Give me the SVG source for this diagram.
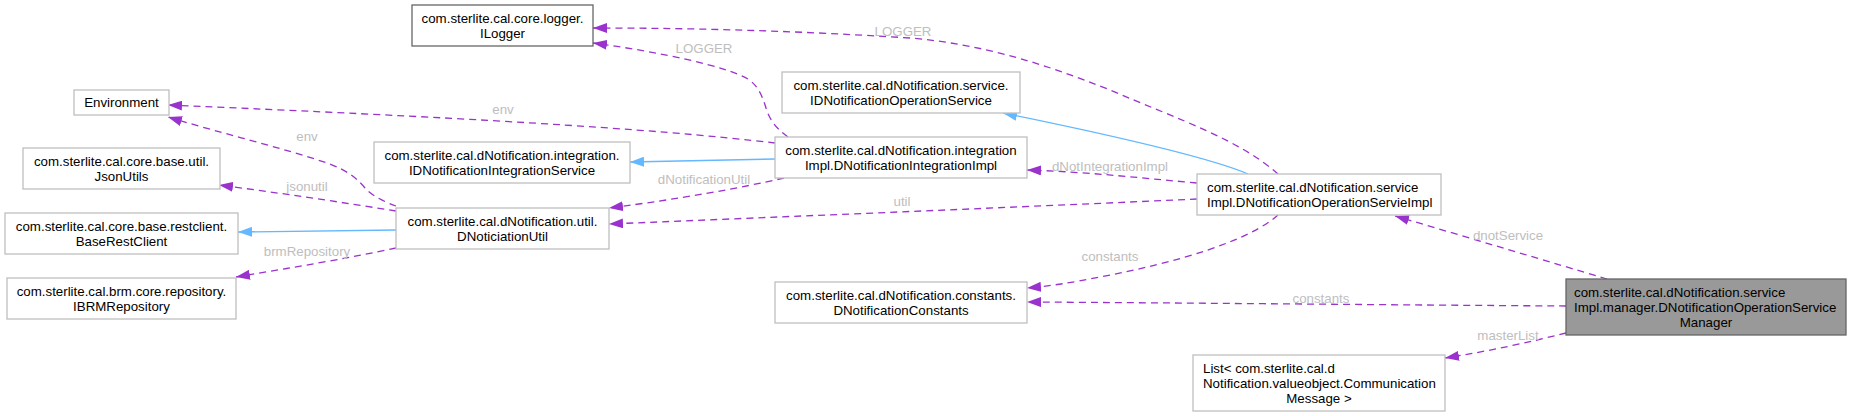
<svg xmlns="http://www.w3.org/2000/svg" width="1851" height="416" viewBox="0 0 1851 416">
<style>
  .box { fill: #ffffff; stroke: #bfbfbf; stroke-width: 1.3; }
  .dark { stroke: #666666; }
  .main { fill: #999999; stroke: #666666; stroke-width: 1.3; }
  text { font-family: "Liberation Sans", Arial, Helvetica, sans-serif; font-size: 13.3px; fill: #000000; }
  .c { text-anchor: middle; }
  .lbl { fill: #bebebe; text-anchor: middle; }
  .use { fill: none; stroke: #9a32cd; stroke-width: 1.3; stroke-dasharray: 7,5; marker-end: url(#ap); }
  .inh { fill: none; stroke: #63b8ff; stroke-width: 1.3; marker-end: url(#ab); }
</style>
<defs>
  <marker id="ap" markerUnits="userSpaceOnUse" markerWidth="14" markerHeight="10" viewBox="0 0 14 10" refX="14" refY="5" orient="auto">
    <path d="M0,0 L14,5 L0,10 z" fill="#9a32cd"/>
  </marker>
  <marker id="ab" markerUnits="userSpaceOnUse" markerWidth="14" markerHeight="10" viewBox="0 0 14 10" refX="14" refY="5" orient="auto">
    <path d="M0,0 L14,5 L0,10 z" fill="#63b8ff"/>
  </marker>
</defs>
<rect width="1851" height="416" fill="#ffffff"/>

<g id="connectors">
  <path class="use" d="M1278,174 C1240,140 1180,120 1110,90 C1040,62 980,44 910,38 C800,31 700,28 593,28"/>
  <text class="lbl" x="903" y="35.5">LOGGER</text>
  <path class="use" d="M788,137 C775,128 769,118 766,108 C762,95 758,86 748,79 C725,66 660,52 593,43"/>
  <text class="lbl" x="704" y="52.5">LOGGER</text>
  <path class="use" d="M775,143 C650,128 450,117 168,105"/>
  <text class="lbl" x="503" y="114">env</text>
  <path class="use" d="M396,206 C385,202 372,196 365,188 C355,176 345,170 330,164 C280,147 220,133 168,117"/>
  <text class="lbl" x="307" y="140.5">env</text>
  <path class="use" d="M396,211 C340,202 280,193 219,185"/>
  <text class="lbl" x="307" y="190.5">jsonutil</text>
  <path class="inh" d="M396,230 L238,232"/>
  <path class="use" d="M396,248 C350,258 290,268 236,277"/>
  <text class="lbl" x="307" y="255.5">brmRepository</text>
  <path class="inh" d="M775,159 L630,162"/>
  <path class="use" d="M784,178 C740,188 680,199 609,208"/>
  <text class="lbl" x="704" y="183.5">dNotificationUtil</text>
  <path class="use" d="M1197,199 C1000,208 800,216 609,224"/>
  <text class="lbl" x="902" y="206">util</text>
  <path class="use" d="M1197,183 C1140,178 1090,172 1027,170"/>
  <text class="lbl" x="1110" y="170.5">dNotIntegrationImpl</text>
  <path class="inh" d="M1248,174 C1220,162 1150,143 1003,113"/>
  <path class="use" d="M1278,215 C1250,240 1180,262 1100,277 C1070,283 1050,286 1027,288"/>
  <text class="lbl" x="1110" y="260.5">constants</text>
  <path class="use" d="M1566,306 C1400,305 1200,303 1027,302"/>
  <text class="lbl" x="1321" y="302.5">constants</text>
  <path class="use" d="M1607,279 C1550,262 1470,238 1395,216"/>
  <text class="lbl" x="1508" y="239.5">dnotService</text>
  <path class="use" d="M1566,333 C1530,342 1490,351 1445,358"/>
  <text class="lbl" x="1508" y="339.5">masterList</text>
</g>

<g id="node-manager">
  <rect class="main" x="1566" y="279" width="280" height="56"/>
  <text x="1574" y="296.5">com.sterlite.cal.dNotification.service</text>
  <text x="1574" y="311.5">Impl.manager.DNotificationOperationService</text>
  <text class="c" x="1706" y="326.5">Manager</text>
</g>
<g id="node-servieimpl">
  <rect class="box" x="1197" y="174" width="244" height="41"/>
  <text x="1207" y="191.5">com.sterlite.cal.dNotification.service</text>
  <text x="1207" y="206.5">Impl.DNotificationOperationServieImpl</text>
</g>
<g id="node-list">
  <rect class="box" x="1193" y="355" width="252" height="56"/>
  <text x="1203" y="372.5">List&lt; com.sterlite.cal.d</text>
  <text x="1203" y="387.5">Notification.valueobject.Communication</text>
  <text class="c" x="1319" y="402.5">Message &gt;</text>
</g>
<g id="node-idnos">
  <rect class="box" x="782" y="72" width="238" height="41"/>
  <text class="c" x="901" y="89.5">com.sterlite.cal.dNotification.service.</text>
  <text class="c" x="901" y="104.5">IDNotificationOperationService</text>
</g>
<g id="node-integrationimpl">
  <rect class="box" x="775" y="137" width="252" height="41"/>
  <text class="c" x="901" y="154.5">com.sterlite.cal.dNotification.integration</text>
  <text class="c" x="901" y="169.5">Impl.DNotificationIntegrationImpl</text>
</g>
<g id="node-constants">
  <rect class="box" x="775" y="282" width="252" height="41"/>
  <text class="c" x="901" y="299.5">com.sterlite.cal.dNotification.constants.</text>
  <text class="c" x="901" y="314.5">DNotificationConstants</text>
</g>
<g id="node-ilogger">
  <rect class="box dark" x="412" y="5" width="181" height="41"/>
  <text class="c" x="502.5" y="22.5">com.sterlite.cal.core.logger.</text>
  <text class="c" x="502.5" y="37.5">ILogger</text>
</g>
<g id="node-idnis">
  <rect class="box" x="374" y="142" width="256" height="41"/>
  <text class="c" x="502" y="159.5">com.sterlite.cal.dNotification.integration.</text>
  <text class="c" x="502" y="174.5">IDNotificationIntegrationService</text>
</g>
<g id="node-util">
  <rect class="box" x="396" y="208" width="213" height="41"/>
  <text class="c" x="502.5" y="225.5">com.sterlite.cal.dNotification.util.</text>
  <text class="c" x="502.5" y="240.5">DNoticiationUtil</text>
</g>
<g id="node-environment">
  <rect class="box" x="74" y="90" width="95" height="25"/>
  <text class="c" x="121.5" y="107">Environment</text>
</g>
<g id="node-jsonutils">
  <rect class="box" x="23" y="148" width="197" height="41"/>
  <text class="c" x="121.5" y="165.5">com.sterlite.cal.core.base.util.</text>
  <text class="c" x="121.5" y="180.5">JsonUtils</text>
</g>
<g id="node-baserestclient">
  <rect class="box" x="5" y="213" width="233" height="41"/>
  <text class="c" x="121.5" y="230.5">com.sterlite.cal.core.base.restclient.</text>
  <text class="c" x="121.5" y="245.5">BaseRestClient</text>
</g>
<g id="node-ibrm">
  <rect class="box" x="7" y="278" width="229" height="41"/>
  <text class="c" x="121.5" y="295.5">com.sterlite.cal.brm.core.repository.</text>
  <text class="c" x="121.5" y="310.5">IBRMRepository</text>
</g>
</svg>
